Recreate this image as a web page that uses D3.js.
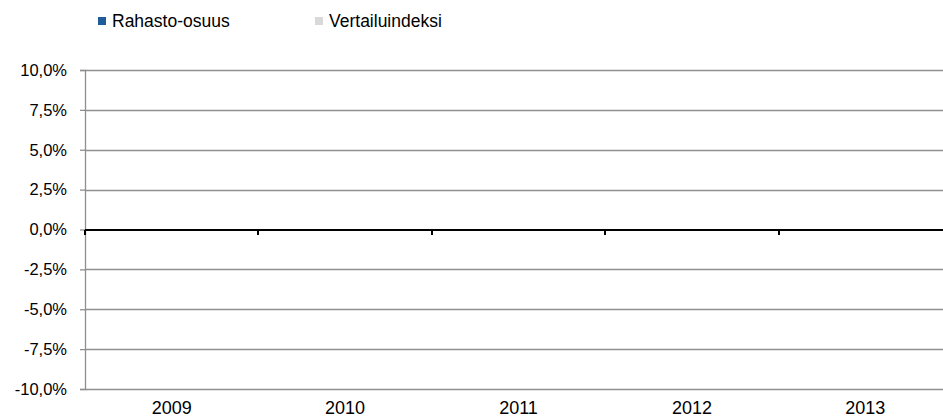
<!DOCTYPE html>
<html>
<head>
<meta charset="utf-8">
<script src="https://cdn.jsdelivr.net/npm/d3@7"></script>
<style>
  body { margin: 0; background: #fff; }
  svg text { font-family: "Liberation Sans", Arial, sans-serif; }
</style>
</head>
<body>
<div class="chart"></div>
<script>
var svgWidth = 943;
var svgHeight = 420;

var margin = { top: 70, right: -9, bottom: 31, left: 85 };
var width = svgWidth - margin.left - margin.right;
var height = svgHeight - margin.top - margin.bottom;

// chart data
var years = ["2009", "2010", "2011", "2012", "2013"];
var seriesNames = ["Rahasto-osuus", "Vertailuindeksi"];
var seriesColors = ["#1F5C99", "#D9D9D9"];
var fundValues = [0, 0, 0, 0, 0];
var indexValues = [0, 0, 0, 0, 0];
var yTicks = [-0.1, -0.075, -0.05, -0.025, 0, 0.025, 0.05, 0.075, 0.1];

var fontFam = "'Liberation Sans', Arial, sans-serif";
var fiLocale = d3.formatLocale({ decimal: ",", thousands: " ", grouping: [3], currency: ["", "€"], minus: "-" });
var pct = fiLocale.format(".1%");

var svg = d3.select(".chart")
  .append("svg")
  .attr("width", svgWidth)
  .attr("height", svgHeight)
  .attr("font-family", fontFam);

var g = svg.append("g")
  .attr("transform", `translate(${margin.left}, ${margin.top})`);

var x = d3.scaleBand()
  .domain(years)
  .range([0, width]);

var x1 = d3.scaleBand()
  .domain(seriesNames)
  .range([0, x.bandwidth()])
  .paddingInner(0)
  .paddingOuter(0.6);

var y = d3.scaleLinear()
  .domain([-0.1, 0.1])
  .range([height, 0]);

// gridlines
g.append("g")
  .selectAll("line")
  .data(yTicks.filter(function(d) { return d !== 0; }))
  .enter()
  .append("line")
  .attr("x1", 0)
  .attr("x2", width)
  .attr("y1", function(d) { return Math.round(y(d)) + 0.5; })
  .attr("y2", function(d) { return Math.round(y(d)) + 0.5; })
  .attr("stroke", "#8f8f8f")
  .attr("stroke-width", 1.3);

// y axis
var yAxis = g.append("g")
  .call(d3.axisLeft(y).tickValues(yTicks).tickFormat(pct).tickSize(5).tickPadding(13));
yAxis.attr("font-family", fontFam).attr("font-size", 16.5);
yAxis.select(".domain").attr("stroke", "#8f8f8f").attr("stroke-width", 1.3);
yAxis.selectAll(".tick line").attr("stroke", "#8f8f8f").attr("stroke-width", 1.3);
yAxis.selectAll(".tick text").attr("fill", "#000");

// bars
var barData = years.map(function(yr, i) {
  return { year: yr, values: [
    { name: seriesNames[0], value: fundValues[i] },
    { name: seriesNames[1], value: indexValues[i] }
  ] };
});

var groups = g.append("g")
  .selectAll("g")
  .data(barData)
  .enter()
  .append("g")
  .attr("transform", function(d) { return `translate(${x(d.year)},0)`; });

groups.selectAll("rect")
  .data(function(d) { return d.values; })
  .enter()
  .append("rect")
  .attr("x", function(d) { return x1(d.name); })
  .attr("y", function(d) { return y(Math.max(0, d.value)); })
  .attr("width", x1.bandwidth())
  .attr("height", function(d) { return Math.abs(y(d.value) - y(0)); })
  .attr("fill", function(d, i) { return seriesColors[i]; });

// zero axis with category ticks
var xAxis = g.append("g")
  .attr("transform", `translate(0, ${Math.round(y(0))})`);
xAxis.append("line")
  .attr("x1", 0)
  .attr("x2", width)
  .attr("stroke", "#000")
  .attr("stroke-width", 2);
xAxis.selectAll(".cat-tick")
  .data(years)
  .enter()
  .append("line")
  .attr("x1", function(d) { return Math.round(x(d)); })
  .attr("x2", function(d) { return Math.round(x(d)); })
  .attr("y1", 0)
  .attr("y2", 5)
  .attr("stroke", "#000")
  .attr("stroke-width", 2);

// category labels at bottom
g.append("g")
  .selectAll("text")
  .data(years)
  .enter()
  .append("text")
  .text(function(d) { return d; })
  .attr("x", function(d) { return x(d) + x.bandwidth() / 2; })
  .attr("y", height + 25)
  .attr("text-anchor", "middle")
  .attr("font-size", 18)
  .attr("fill", "#000");

// legend
var legendX = [98, 315];
var legend = svg.append("g")
  .selectAll("g")
  .data(seriesNames)
  .enter()
  .append("g")
  .attr("transform", function(d, i) { return `translate(${legendX[i]}, 17)`; });

legend.append("rect")
  .attr("width", 8)
  .attr("height", 8)
  .attr("y", 0)
  .attr("fill", function(d, i) { return seriesColors[i]; });

legend.append("text")
  .text(function(d) { return d; })
  .attr("x", 14)
  .attr("y", 9.5)
  .attr("font-size", 17.5)
  .attr("fill", "#000");
</script>
</body>
</html>
